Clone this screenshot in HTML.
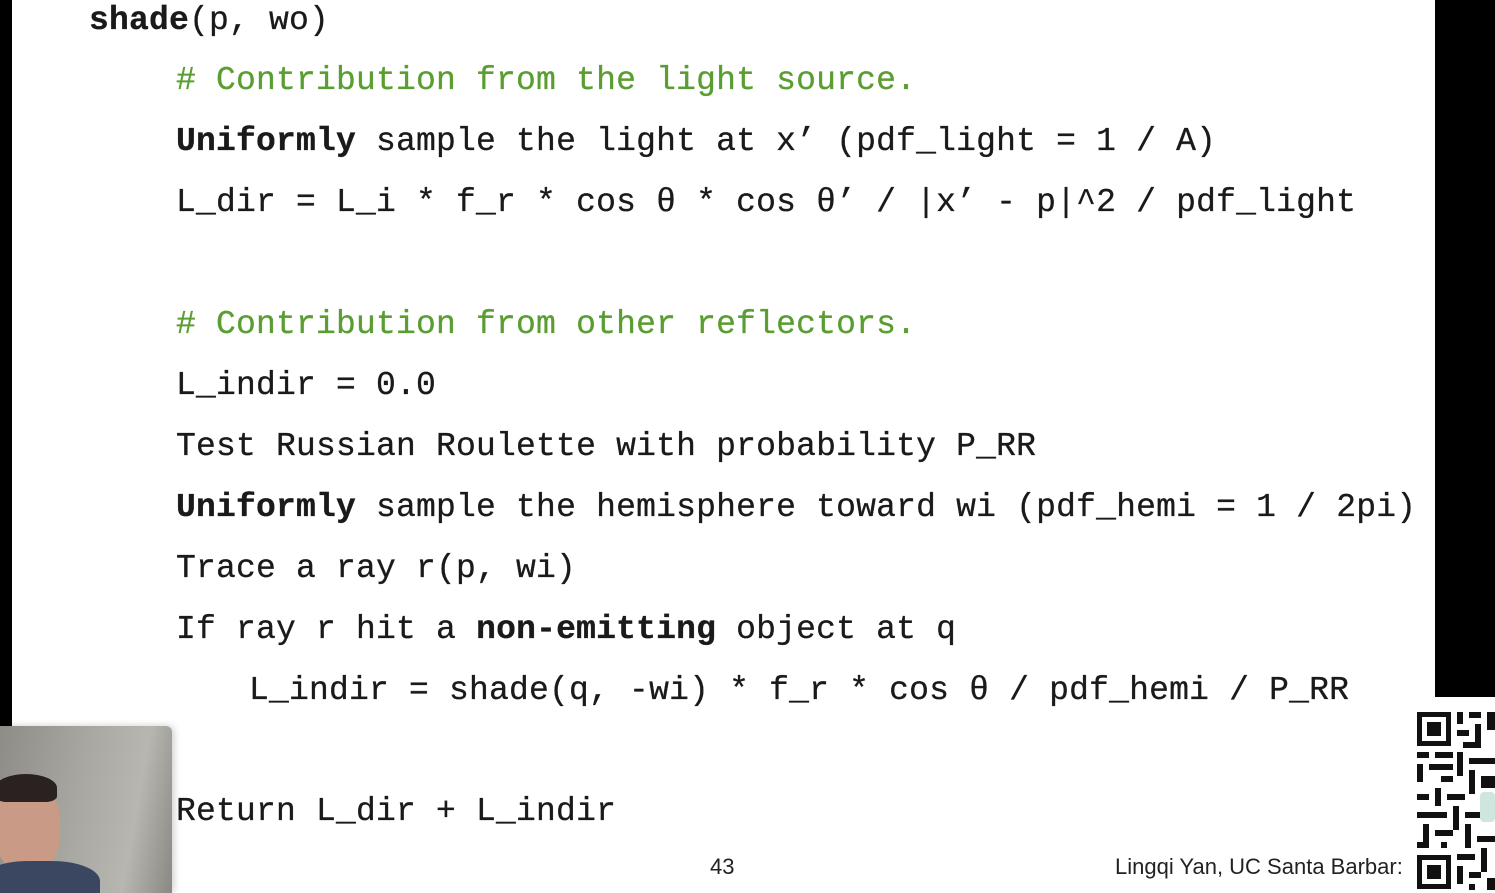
<!DOCTYPE html>
<html><head><meta charset="utf-8"><style>
html,body{margin:0;padding:0;}
body{width:1495px;height:893px;background:#fff;position:relative;overflow:hidden;font-family:"Liberation Mono",monospace;}
.l{position:absolute;font-size:33px;line-height:40px;white-space:pre;letter-spacing:0.2px;color:#1a1a1a;-webkit-text-stroke:0.3px #1a1a1a;}
.g{color:#5a9e32;-webkit-text-stroke:0.3px #5a9e32;}
b{font-weight:bold;}
.f{position:absolute;font-family:"Liberation Sans",sans-serif;font-size:22px;color:#222;}
</style></head><body>
<div style="position:absolute;left:0;top:0;width:12px;height:726px;background:#000"></div>
<div style="position:absolute;left:1435px;top:0;width:60px;height:697px;background:#000"></div>

<div class="l" style="left:89px;top:1px"><b>shade</b>(p, wo)</div>
<div class="l g" style="left:176px;top:61px"># Contribution from the light source.</div>
<div class="l" style="left:176px;top:122px"><b>Uniformly</b> sample the light at x’ (pdf_light = 1 / A)</div>
<div class="l" style="left:176px;top:183px">L_dir = L_i * f_r * cos θ * cos θ’ / |x’ - p|^2 / pdf_light</div>
<div class="l g" style="left:176px;top:305px"># Contribution from other reflectors.</div>
<div class="l" style="left:176px;top:366px">L_indir = 0.0</div>
<div class="l" style="left:176px;top:427px">Test Russian Roulette with probability P_RR</div>
<div class="l" style="left:176px;top:488px"><b>Uniformly</b> sample the hemisphere toward wi (pdf_hemi = 1 / 2pi)</div>
<div class="l" style="left:176px;top:549px">Trace a ray r(p, wi)</div>
<div class="l" style="left:176px;top:610px">If ray r hit a <b>non-emitting</b> object at q</div>
<div class="l" style="left:249px;top:671px">L_indir = shade(q, -wi) * f_r * cos θ / pdf_hemi / P_RR</div>
<div class="l" style="left:176px;top:792px">Return L_dir + L_indir</div>

<div class="f" style="left:710px;top:854px">43</div>
<div class="f" style="left:1115px;top:854px">Lingqi Yan, UC Santa Barbar:</div>

<div style="position:absolute;left:0;top:726px;width:172px;height:167px;border-top-right-radius:6px;background:linear-gradient(100deg,#8e8c86 0%,#a9a7a1 45%,#b8b6b0 75%,#8a8882 100%);overflow:hidden;box-shadow:2px 0 8px rgba(0,0,0,0.2)">
 <div style="position:absolute;left:-5px;top:55px;width:65px;height:90px;border-radius:45% 45% 40% 40%;background:#c99a86"></div>
 <div style="position:absolute;left:-5px;top:48px;width:62px;height:28px;border-radius:50% 50% 20% 20%;background:#2a2220"></div>
 <div style="position:absolute;left:-20px;top:135px;width:120px;height:50px;border-radius:40% 40% 0 0;background:#3b4660"></div>
</div>

<svg style="position:absolute;left:1412px;top:697px" width="83" height="196" viewBox="0 0 83 196">
<rect width="83" height="196" fill="#fff"/>
<g fill="#111">
<rect x="5" y="15" width="34" height="34"/><rect x="10" y="20" width="24" height="24" fill="#fff"/><rect x="15" y="25" width="14" height="14"/>
<rect x="5" y="158" width="34" height="34"/><rect x="10" y="163" width="24" height="24" fill="#fff"/><rect x="15" y="168" width="14" height="14"/>
<rect x="45" y="15" width="6" height="12"/><rect x="57" y="15" width="12" height="6"/><rect x="75" y="15" width="8" height="18"/>
<rect x="45" y="33" width="12" height="6"/><rect x="63" y="27" width="6" height="18"/><rect x="51" y="45" width="18" height="6"/>
<rect x="5" y="55" width="12" height="6"/><rect x="23" y="55" width="18" height="6"/><rect x="45" y="55" width="6" height="24"/>
<rect x="5" y="67" width="6" height="18"/><rect x="17" y="67" width="24" height="6"/><rect x="57" y="61" width="26" height="6"/>
<rect x="29" y="79" width="12" height="6"/><rect x="57" y="73" width="6" height="24"/><rect x="69" y="79" width="14" height="12"/>
<rect x="5" y="97" width="12" height="6"/><rect x="23" y="91" width="6" height="18"/><rect x="35" y="97" width="18" height="6"/>
<rect x="5" y="115" width="30" height="6"/><rect x="41" y="109" width="6" height="24"/><rect x="53" y="115" width="18" height="6"/>
<rect x="11" y="127" width="6" height="18"/><rect x="23" y="133" width="18" height="6"/><rect x="53" y="127" width="6" height="24"/>
<rect x="5" y="145" width="12" height="6"/><rect x="29" y="145" width="6" height="6"/><rect x="65" y="139" width="18" height="6"/>
<rect x="45" y="157" width="18" height="6"/><rect x="69" y="151" width="6" height="24"/><rect x="45" y="169" width="6" height="18"/>
<rect x="57" y="175" width="12" height="6"/><rect x="57" y="187" width="6" height="6"/><rect x="75" y="181" width="8" height="12"/>
</g>
<rect x="68" y="95" width="15" height="30" rx="4" fill="#cfe5e0"/>
</svg>
</body></html>
